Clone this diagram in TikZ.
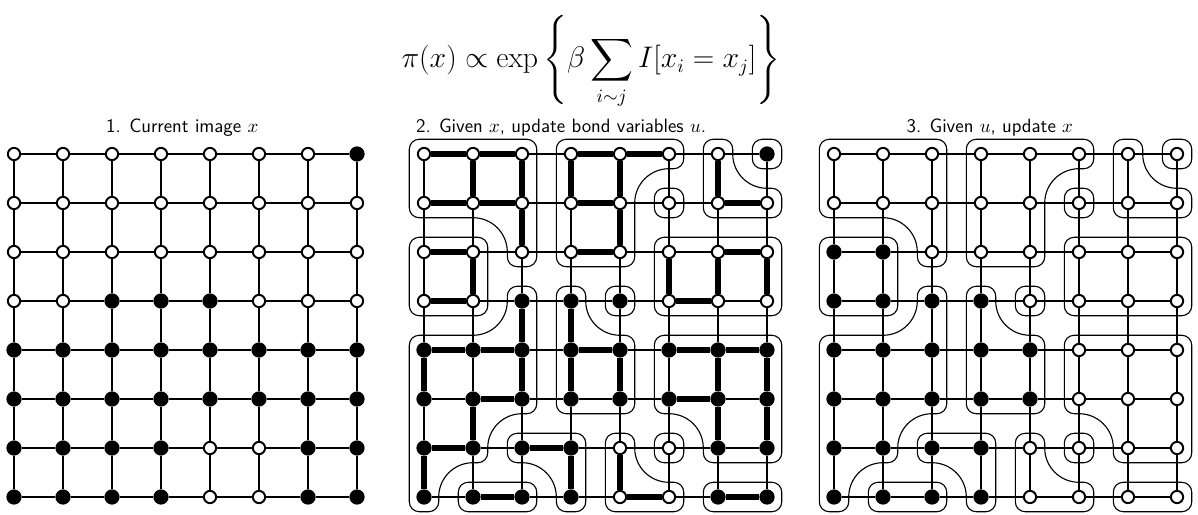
\documentclass[tikz,border=0pt]{standalone}
\usepackage{amsmath}
\newcommand\crad{0.2}
\newcommand\cTR[2]{-- ({#1-\crad},{#2}) arc[start angle=90,end angle=0,radius=\crad]}
\newcommand\cBR[2]{-- ({#1},{#2+\crad}) arc[start angle=0,end angle=-90,radius=\crad]}
\newcommand\cBL[2]{-- ({#1+\crad},{#2}) arc[start angle=-90,end angle=-180,radius=\crad]}
\newcommand\cTL[2]{-- ({#1},{#2-\crad}) arc[start angle=180,end angle=90,radius=\crad]}
\tikzset{
  nodew/.style={circle,draw=black,fill=white,line width=1.15pt,inner sep=0pt,minimum size=0.25cm},
  nodeb/.style={circle,draw=black,fill=black,line width=1.15pt,inner sep=0pt,minimum size=0.27cm},
  latA/.style={line width=1.5pt},
  latB/.style={line width=1.2pt},
  bond/.style={line width=3.6pt},
  cline/.style={line width=0.65pt},
  cbox/.style={line width=0.65pt,rounded corners=0.2cm},
  lbl/.style={font=\fontsize{11.2}{13}\selectfont\sffamily,anchor=base,inner sep=0pt},
}
\newcommand\noderow[5]{%
  \foreach \k [count=\c from 0] in {#5}{\node[node\k] (#1-\c-#4) at ({#2+\c},{#3-#4}) {};}}
\newcommand\lattice[2]{%
  \foreach \r in {0,...,7}{\foreach \c [evaluate=\c as \cn using int(\c+1)] in {0,...,6}{%
    \draw[#2] (#1-\c-\r) -- (#1-\cn-\r);
    \draw[#2] (#1-\r-\c) -- (#1-\r-\cn);}}}
\newcommand\clusters{%
  % A
  \draw[cline] (-0.3,0.1) \cTL{-0.3}{0.3} \cTR{2.3}{0.3} \cBR{2.3}{-2.3} \cBL{1.7}{-2.3}
     -- (1.7,-2) arc[start angle=0,end angle=90,radius=0.7] \cBL{-0.3}{-1.3} -- cycle;
  % B
  \draw[cline] (2.7,0.1) \cTL{2.7}{0.3} \cTR{5.3}{0.3} \cBR{5.3}{-0.3}
     -- (5,-0.3) arc[start angle=90,end angle=180,radius=0.7] \cBR{4.3}{-2.3} \cBL{2.7}{-2.3} -- cycle;
  % D
  \draw[cline] (5.7,0.1) \cTL{5.7}{0.3} \cTR{6.3}{0.3}
     -- (6.3,0) arc[start angle=180,end angle=270,radius=0.7] \cTR{7.3}{-0.7} \cBR{7.3}{-1.3} \cBL{5.7}{-1.3} -- cycle;
  % H
  \draw[cline] (1.7,-2.9) \cTL{1.7}{-2.7} \cTR{2.3}{-2.7} \cBR{2.3}{-5.3}
     -- (2,-5.3) arc[start angle=90,end angle=180,radius=0.7] \cBR{1.3}{-6.3}
     -- (1,-6.3) arc[start angle=90,end angle=180,radius=0.7] \cBR{0.3}{-7.3} \cBL{-0.3}{-7.3} \cTL{-0.3}{-3.7}
     -- (1,-3.7) arc[start angle=270,end angle=360,radius=0.7] -- cycle;
  % I
  \draw[cline] (2.7,-2.9) \cTL{2.7}{-2.7} \cTR{3.3}{-2.7}
     -- (3.3,-3) arc[start angle=180,end angle=270,radius=0.7] \cTR{4.3}{-3.7} \cBR{4.3}{-5.3} \cBL{2.7}{-5.3} -- cycle;
  % J
  \draw[cline] (4.7,-3.9) \cTL{4.7}{-3.7} \cTR{7.3}{-3.7} \cBR{7.3}{-6.3} \cBL{5.7}{-6.3}
     -- (5.7,-6) arc[start angle=0,end angle=90,radius=0.7] \cBL{4.7}{-5.3} -- cycle;
  % K
  \draw[cline] (3.7,-5.9) \cTL{3.7}{-5.7} \cTR{4.3}{-5.7}
     -- (4.3,-6) arc[start angle=180,end angle=270,radius=0.7] \cTR{5.3}{-6.7} \cBR{5.3}{-7.3} \cBL{3.7}{-7.3} -- cycle;
  % N
  \draw[cline] (1.7,-5.9) \cTL{1.7}{-5.7} \cTR{3.3}{-5.7} \cBR{3.3}{-7.3} \cBL{2.7}{-7.3}
     -- (2.7,-7) arc[start angle=0,end angle=90,radius=0.7] \cBL{1.7}{-6.3} -- cycle;
  % boxes
  \draw[cbox] (4.7,-0.7) rectangle (5.3,-1.3);
  \draw[cbox] (6.7,0.3) rectangle (7.3,-0.3);
  \draw[cbox] (-0.3,-1.7) rectangle (1.3,-3.3);
  \draw[cbox] (4.7,-1.7) rectangle (7.3,-3.3);
  \draw[cbox] (3.7,-2.7) rectangle (4.3,-3.3);
  \draw[cbox] (4.7,-5.7) rectangle (5.3,-6.3);
  \draw[cbox] (5.7,-6.7) rectangle (7.3,-7.3);
  \draw[cbox] (0.7,-6.7) rectangle (2.3,-7.3);
}
\begin{document}
\begin{tikzpicture}
\useasboundingbox (0,0) rectangle (24.449,10.490);
% formula and labels
\node[font=\fontsize{16}{19}\selectfont,inner sep=0pt] (formula) at (12.06,9.22)
  {$\displaystyle \pi(x) \propto \exp\left\{\beta\sum_{i\sim j} I[x_i = x_j]\right\}$};
\node[lbl] (lab1) at (3.72,7.776) {1. Current image $x$};
\node[lbl] (lab2) at (11.45,7.776) {2. Given $x$, update bond variables $u$.};
\node[lbl] (lab3) at (20.20,7.776) {3. Given $u$, update $x$};
% panel 1 nodes
\noderow{a}{0.2857}{7.347}{0}{w,w,w,w,w,w,w,b}
\noderow{a}{0.2857}{7.347}{1}{w,w,w,w,w,w,w,w}
\noderow{a}{0.2857}{7.347}{2}{w,w,w,w,w,w,w,w}
\noderow{a}{0.2857}{7.347}{3}{w,w,b,b,b,w,w,w}
\noderow{a}{0.2857}{7.347}{4}{b,b,b,b,b,b,b,b}
\noderow{a}{0.2857}{7.347}{5}{b,b,b,b,b,b,b,b}
\noderow{a}{0.2857}{7.347}{6}{b,b,b,b,w,w,b,b}
\noderow{a}{0.2857}{7.347}{7}{b,b,b,b,w,w,b,b}
% panel 2 nodes
\noderow{b}{8.6531}{7.347}{0}{w,w,w,w,w,w,w,b}
\noderow{b}{8.6531}{7.347}{1}{w,w,w,w,w,w,w,w}
\noderow{b}{8.6531}{7.347}{2}{w,w,w,w,w,w,w,w}
\noderow{b}{8.6531}{7.347}{3}{w,w,b,b,b,w,w,w}
\noderow{b}{8.6531}{7.347}{4}{b,b,b,b,b,b,b,b}
\noderow{b}{8.6531}{7.347}{5}{b,b,b,b,b,b,b,b}
\noderow{b}{8.6531}{7.347}{6}{b,b,b,b,w,w,b,b}
\noderow{b}{8.6531}{7.347}{7}{b,b,b,b,w,w,b,b}
% panel 3 nodes
\noderow{c}{17.0204}{7.347}{0}{w,w,w,w,w,w,w,w}
\noderow{c}{17.0204}{7.347}{1}{w,w,w,w,w,w,w,w}
\noderow{c}{17.0204}{7.347}{2}{b,b,w,w,w,w,w,w}
\noderow{c}{17.0204}{7.347}{3}{b,b,b,b,w,w,w,w}
\noderow{c}{17.0204}{7.347}{4}{b,b,b,b,b,w,w,w}
\noderow{c}{17.0204}{7.347}{5}{b,b,b,b,b,w,w,w}
\noderow{c}{17.0204}{7.347}{6}{b,b,b,b,w,w,w,w}
\noderow{c}{17.0204}{7.347}{7}{b,b,b,b,w,w,w,w}
% lattice edges
\lattice{a}{latA}
\lattice{b}{latB}
\lattice{c}{latB}
% bonds in panel 2
\foreach \r/\c [evaluate=\c as \cn using int(\c+1)] in {0/0,0/1,0/3,0/4,1/0,1/1,1/3,1/6,2/0,2/3,2/6,3/0,3/5,4/0,4/1,4/3,4/5,4/6,5/1,5/5,6/0,6/2,7/1,7/4,7/6}
  \draw[bond] (b-\c-\r) -- (b-\cn-\r);
\foreach \r/\c [evaluate=\r as \rn using int(\r+1)] in {0/1,0/2,0/3,0/4,0/6,1/2,1/4,2/1,2/5,2/6,2/7,3/2,3/3,4/0,4/2,4/3,4/4,4/6,4/7,5/1,5/6,5/7,6/0,6/3,6/4}
  \draw[bond] (b-\c-\r) -- (b-\c-\rn);
% cluster outlines
\begin{scope}[shift={(8.6531,7.347)}]\clusters\end{scope}
\begin{scope}[shift={(17.0204,7.347)}]\clusters\end{scope}
\end{tikzpicture}
\end{document}
